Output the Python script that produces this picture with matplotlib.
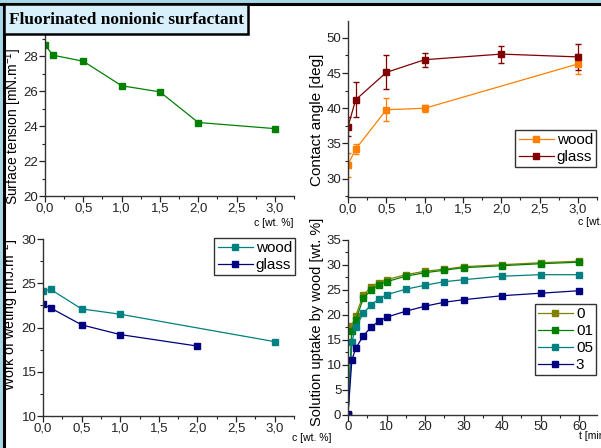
import matplotlib
matplotlib.use("Agg")
import matplotlib.pyplot as plt
from matplotlib.patches import Rectangle
from matplotlib.ticker import MultipleLocator, FuncFormatter

plt.rcParams['font.family'] = ['Liberation Sans', 'DejaVu Sans']
plt.rcParams['mathtext.fontset'] = 'custom'
plt.rcParams['mathtext.rm'] = 'Liberation Sans'
plt.rcParams['mathtext.default'] = 'regular'

# surface tension
c_st = [0.0, 0.1, 0.5, 1.0, 1.5, 2.0, 3.0]
tension = [28.65, 28.05, 27.7, 26.3, 25.95, 24.2, 23.85]

# contact angle
c_wood = [0.0, 0.1, 0.5, 1.0, 3.0]
angle_wood = [32.0, 34.2, 39.8, 40.0, 46.3]
angle_wood_err = [1.7, 0.7, 1.6, 0.5, 1.4]
c_glass = [0.0, 0.1, 0.5, 1.0, 2.0, 3.0]
angle_glass = [37.4, 41.2, 45.1, 46.9, 47.7, 47.3]
angle_glass_err = [1.4, 2.5, 2.4, 1.0, 1.2, 1.8]

# work of wetting
work_wood = [24.15, 24.3, 22.1, 21.5, 18.4]
work_glass = [22.6, 22.2, 20.3, 19.2, 17.9]
c_work_glass = [0.0, 0.1, 0.5, 1.0, 2.0]

# uptake
t = [0, 1, 2, 4, 6, 8, 10, 15, 20, 25, 30, 40, 50, 60]
up_0 = [0, 17.8, 19.8, 24.0, 25.5, 26.4, 27.0, 28.0, 28.7, 29.1, 29.6, 30.0, 30.4, 30.7]
up_01 = [0, 16.8, 18.9, 23.3, 25.0, 26.0, 26.6, 27.7, 28.4, 28.9, 29.4, 29.8, 30.2, 30.5]
up_05 = [0, 14.5, 17.5, 20.3, 22.0, 23.1, 24.0, 25.1, 25.9, 26.6, 27.0, 27.7, 28.0, 28.0]
up_3 = [0.1, 10.9, 13.3, 15.8, 17.5, 18.7, 19.5, 20.7, 21.7, 22.5, 23.0, 23.8, 24.3, 24.8]

W, H = 601, 448
fig = plt.figure(figsize=(W / 100, H / 100), dpi=100)
fig.patch.set_facecolor("white")


def box(l, r, top, bot):
    return [l / W, 1 - bot / H, (r - l) / W, (bot - top) / H]


def style(ax, xmaj, xmin, ymaj, ymin):
    for s in ["top", "right"]:
        ax.spines[s].set_visible(False)
    for s in ["left", "bottom"]:
        ax.spines[s].set_color("#333333")
        ax.spines[s].set_linewidth(1.0)
    ax.set_facecolor("none")
    ax.xaxis.set_major_locator(MultipleLocator(xmaj))
    ax.xaxis.set_minor_locator(MultipleLocator(xmin))
    ax.yaxis.set_major_locator(MultipleLocator(ymaj))
    ax.yaxis.set_minor_locator(MultipleLocator(ymin))
    ax.tick_params(which="major", direction="out", length=4, width=0.9,
                   labelsize=9.5, pad=0.8, colors="#222222")
    ax.tick_params(which="minor", direction="out", length=2.5, width=0.8,
                   colors="#222222")


def ylab(ax, text, size, px, cy, axl, axr, axtop, axbot):
    ax.set_ylabel(text, fontsize=size)
    ax.yaxis.set_label_coords((px - axl) / (axr - axl), (axbot - cy) / (axbot - axtop))


def legend(ax, r, top, axl, axr, axtop, axbot, size):
    return ax.legend(loc="upper right",
                     bbox_to_anchor=((r - axl) / (axr - axl), (axbot - top) / (axbot - axtop)),
                     fontsize=size, frameon=True, fancybox=False,
                     edgecolor="black", handlelength=2.3, handletextpad=0.2,
                     borderpad=0.2, labelspacing=0.2, borderaxespad=0)


comma = FuncFormatter(lambda v, p: ("%.1f" % v).replace(".", ","))
mk = dict(marker="s", markersize=5, linewidth=0.9)

# panel 1
ax1 = fig.add_axes(box(45, 294, 35, 196))
ax1.plot(c_st, tension, color="#008000", **mk)
ax1.set_xlim(0, 3.25)
ax1.set_ylim(20, 29.2)
style(ax1, 0.5, 0.25, 2, 1)
ax1.xaxis.set_major_formatter(comma)
ylab(ax1, "Surface tension [mN.m$^{-1}$]", 10, 24, 126.5, 45, 294, 35, 196)
fig.text(293 / W, 1 - 223 / H, "c [wt. %]", fontsize=7.5, ha="right", va="center")

# panel 2
ax2 = fig.add_axes(box(348, 597, 21, 197))
ax2.errorbar(c_wood, angle_wood, yerr=angle_wood_err, fmt="none", ecolor="#FF8000",
             capsize=2, elinewidth=0.9)
ax2.errorbar(c_glass, angle_glass, yerr=angle_glass_err, fmt="none", ecolor="#800000",
             capsize=2, elinewidth=0.9)
ax2.plot(c_wood, angle_wood, color="#FF8000", label="wood", **mk)
ax2.plot(c_glass, angle_glass, color="#800000", label="glass", **mk)
ax2.set_xlim(0, 3.25)
ax2.set_ylim(27.4, 52.4)
style(ax2, 0.5, 0.25, 5, 2.5)
ax2.xaxis.set_major_formatter(comma)
ylab(ax2, "Contact angle [deg]", 11, 324, 120, 348, 597, 21, 197)
legend(ax2, 596, 130, 348, 597, 21, 197, 11)
fig.text(578 / W, 1 - 222 / H, "c [wt. %]", fontsize=7.5, ha="left", va="center")

# panel 3
ax3 = fig.add_axes(box(43, 294, 239, 416))
ax3.plot(c_wood, work_wood, color="#008080", label="wood", **mk)
ax3.plot(c_work_glass, work_glass, color="#000080", label="glass", **mk)
ax3.set_xlim(0, 3.25)
ax3.set_ylim(10, 30)
style(ax3, 0.5, 0.25, 5, 2.5)
ax3.xaxis.set_major_formatter(comma)
ylab(ax3, "Work of weting [mJ.m$^{-2}$]", 10.2, 21.5, 315, 43, 294, 239, 416)
legend(ax3, 295, 238, 43, 294, 239, 416, 11)
fig.text(292 / W, 1 - 438 / H, "c [wt. %]", fontsize=7.5, ha="left", va="center")

# panel 4
ax4 = fig.add_axes(box(348, 597, 239.7, 414.7))
ax4.plot(t, up_0, color="#808000", label="0", **mk)
ax4.plot(t, up_01, color="#008000", label="01", **mk)
ax4.plot(t, up_05, color="#008080", label="05", **mk)
ax4.plot(t, up_3, color="#000080", label="3", **mk)
ax4.set_xlim(0, 64.6)
ax4.set_ylim(0, 35)
style(ax4, 10, 5, 5, 2.5)
ylab(ax4, "Solution uptake by wood [wt. %]", 10.5, 324, 321.5, 348, 597, 239.7, 414.7)
legend(ax4, 596, 304, 348, 597, 239.7, 414.7, 11)
fig.text(579 / W, 1 - 436 / H, "t [min]", fontsize=7.5, ha="left", va="center")

# frame and title box
fig.patches.append(Rectangle((0, 1 - 3 / H), 1, 3 / H, transform=fig.transFigure,
                             facecolor="#a8d8e8", edgecolor="none", zorder=5))
fig.patches.append(Rectangle((0, 0), 3 / W, 1, transform=fig.transFigure,
                             facecolor="#a8d8e8", edgecolor="none", zorder=5))
fig.lines.append(plt.Line2D([0, 1], [1 - 4.5 / H, 1 - 4.5 / H], transform=fig.transFigure,
                            color="black", linewidth=2.2, zorder=6))
fig.lines.append(plt.Line2D([4 / W, 4 / W], [0, 1 - 4.5 / H], transform=fig.transFigure,
                            color="black", linewidth=2.2, zorder=6))
fig.patches.append(Rectangle((4 / W, 1 - 34 / H), 244 / W, 30 / H, transform=fig.transFigure,
                             facecolor="#d8f0fc", edgecolor="black", linewidth=1.8, zorder=7))
fig.text(9 / W, 1 - 19.5 / H, "Fluorinated nonionic surfactant", fontsize=12.4,
         family="Liberation Serif", weight="bold", ha="left", va="center", zorder=8)

fig.savefig("out.png", dpi=100)
